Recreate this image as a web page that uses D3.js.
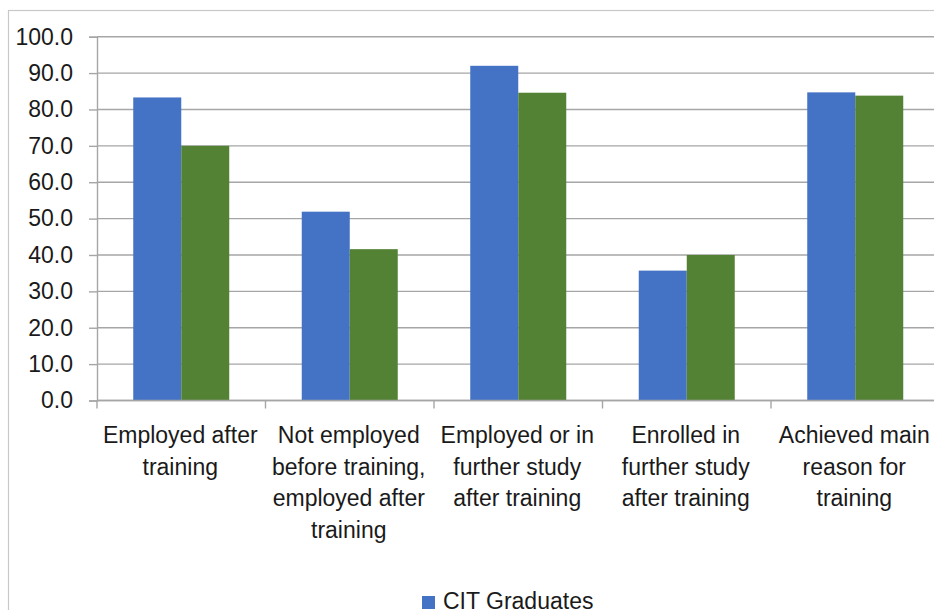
<!DOCTYPE html>
<html>
<head>
<meta charset="utf-8">
<script src="https://cdn.jsdelivr.net/npm/d3@7"></script>
<style>
  html, body { margin: 0; padding: 0; background: #fff; }
  svg { display: block; }
  text { font-family: "Liberation Sans", Arial, sans-serif; fill: #1a1a1a; }
</style>
</head>
<body>
<svg id="chart" width="934" height="610"></svg>
<script>
// Outcome categories (multi-line labels)
const categories = [
  ["Employed after", "training"],
  ["Not employed", "before training,", "employed after", "training"],
  ["Employed or in", "further study", "after training"],
  ["Enrolled in", "further study", "after training"],
  ["Achieved main", "reason for", "training"]
];
const seriesNames = ["CIT Graduates", "All VET graduates"];
const citValues = [83.3, 51.9, 92.0, 35.7, 84.7];
const allValues = [70.0, 41.6, 84.6, 40.0, 83.8];
const yTicks = [0, 10, 20, 30, 40, 50, 60, 70, 80, 90, 100];
const colors = ["#4472C4", "#548235"];

const svg = d3.select("#chart");
const W = 934, H = 610;
const plot = { left: 97, top: 36.7, right: 939.5, bottom: 400.5 };
const fontSize = 23;

// Chart frame
svg.append("rect")
  .attr("x", 8.5).attr("y", 10.5)
  .attr("width", W + 20).attr("height", H + 20)
  .attr("fill", "none").attr("stroke", "#c8c8c8").attr("stroke-width", 1.2);

const x0 = d3.scaleBand()
  .domain(d3.range(categories.length))
  .range([plot.left, plot.right])
  .paddingInner(0).paddingOuter(0);

const innerWidth = 96;
const x1 = d3.scaleBand()
  .domain(d3.range(seriesNames.length))
  .range([0, innerWidth]);

const y = d3.scaleLinear().domain([0, 100]).range([plot.bottom, plot.top]);

// Horizontal gridlines
svg.append("g").selectAll("line.grid")
  .data(yTicks)
  .join("line")
  .attr("x1", plot.left).attr("x2", plot.right)
  .attr("y1", d => y(d)).attr("y2", d => y(d))
  .attr("stroke", "#a6a6a6").attr("stroke-width", 1.4);

// Y axis
const yAxis = d3.axisLeft(y)
  .tickValues(yTicks)
  .tickFormat(d3.format(".1f"))
  .tickSize(8)
  .tickPadding(16);

const gy = svg.append("g").attr("transform", `translate(${plot.left},0)`).call(yAxis);
gy.select(".domain").attr("stroke", "#a6a6a6").attr("stroke-width", 1.4);
gy.selectAll(".tick line").attr("stroke", "#a6a6a6").attr("stroke-width", 1.4);
gy.selectAll(".tick text")
  .attr("font-size", fontSize)
  .style("font-family", "\"Liberation Sans\", Arial, sans-serif")
  .attr("fill", "#1a1a1a");

// Bars
const series = [citValues, allValues];
const groups = svg.append("g").selectAll("g")
  .data(d3.range(categories.length))
  .join("g")
  .attr("transform", i => `translate(${x0(i) + x0.bandwidth() / 2 - innerWidth / 2},0)`);

groups.selectAll("rect")
  .data(i => series.map((vals, s) => ({ s, v: vals[i] })))
  .join("rect")
  .attr("x", d => x1(d.s))
  .attr("width", x1.bandwidth())
  .attr("y", d => y(d.v))
  .attr("height", d => y(0) - y(d.v))
  .attr("fill", d => colors[d.s]);

// Category axis line and ticks
svg.append("line")
  .attr("x1", plot.left).attr("x2", plot.right)
  .attr("y1", y(0)).attr("y2", y(0))
  .attr("stroke", "#a6a6a6").attr("stroke-width", 1.4);

svg.append("g").selectAll("line")
  .data(d3.range(categories.length + 1))
  .join("line")
  .attr("x1", i => plot.left + i * x0.step())
  .attr("x2", i => plot.left + i * x0.step())
  .attr("y1", y(0)).attr("y2", y(0) + 8)
  .attr("stroke", "#a6a6a6").attr("stroke-width", 1.4);

// Category labels
const labels = svg.append("g").selectAll("text")
  .data(categories)
  .join("text")
  .attr("text-anchor", "middle")
  .attr("font-size", fontSize)
  .attr("transform", (d, i) => `translate(${x0(i) + x0.bandwidth() / 2 - 1},443)`);

labels.selectAll("tspan")
  .data(d => d)
  .join("tspan")
  .attr("x", 0)
  .attr("y", (d, i) => i * 31.6)
  .text(d => d);

// Legend (first entry)
const legend = svg.append("g");
legend.append("rect")
  .attr("x", 422).attr("y", 596)
  .attr("width", 13).attr("height", 13)
  .attr("fill", colors[0]);
legend.append("text")
  .attr("x", 443)
  .attr("y", 609)
  .attr("font-size", fontSize)
  .text(seriesNames[0]);
</script>
</body>
</html>
